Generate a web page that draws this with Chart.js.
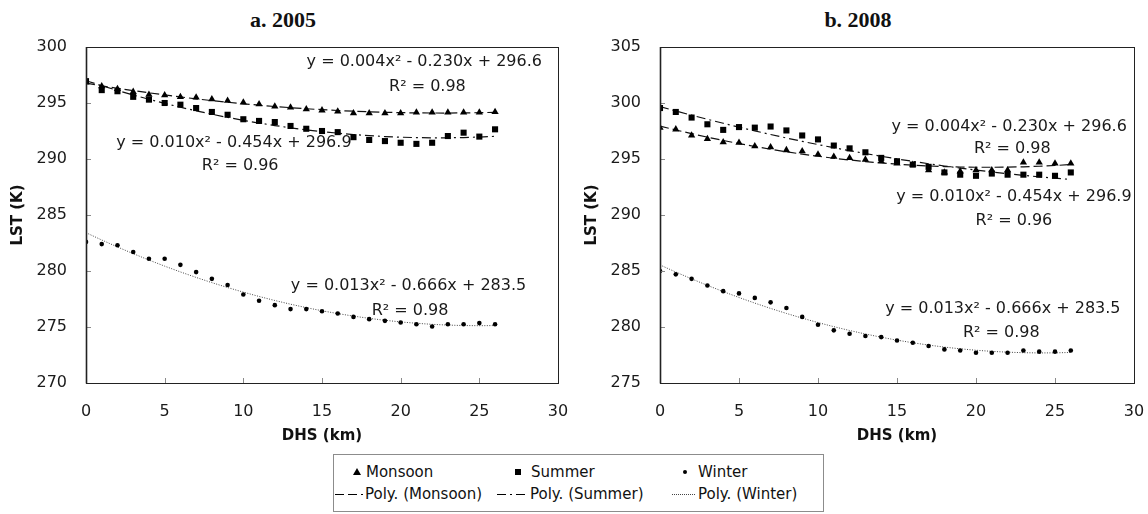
<!DOCTYPE html>
<html>
<head>
<meta charset="utf-8">
<script src="https://cdn.jsdelivr.net/npm/chart.js@4.4.1/dist/chart.umd.min.js"></script>
<style>
  html, body { margin: 0; padding: 0; background: #fff; }
  body { width: 1148px; height: 514px; position: relative; overflow: hidden; font-family: "DejaVu Sans", sans-serif; }
  .panel { position: absolute; top: 0; width: 574px; height: 450px; }
  .title { position: absolute; top: 8px; width: 200px; margin-left: -100px; text-align: center;
           font: bold 22px/24px "Liberation Serif", serif; color: #111; }
  .legend { position: absolute; left: 333px; top: 454px; width: 491px; height: 58px;
            border: 1px solid #8c8c8c; box-sizing: border-box; }
  .txt { position: absolute; font-size: 15px; line-height: 18px; color: #111; white-space: nowrap; }
  .tri { position: absolute; width: 0; height: 0; border-left: 4px solid transparent;
         border-right: 4px solid transparent; border-bottom: 7px solid #000; }
  .sq { position: absolute; width: 6px; height: 6px; background: #000; }
  .dot { position: absolute; width: 4px; height: 4px; border-radius: 50%; background: #000; }
  svg.ln { position: absolute; overflow: visible; }
</style>
</head>
<body>
<div class="title" style="left:283px">a. 2005</div>
<div class="title" style="left:858px">b. 2008</div>
<div class="panel" style="left:0"><canvas id="chart2005" width="574" height="450"></canvas></div>
<div class="panel" style="left:574px"><canvas id="chart2008" width="574" height="450"></canvas></div>

<div class="legend"></div>
<div class="tri" style="left:353px;top:468px"></div>
<div class="txt" style="left:366px;top:463px">Monsoon</div>
<div class="sq" style="left:515px;top:469px"></div>
<div class="txt" style="left:531px;top:463px">Summer</div>
<div class="dot" style="left:683px;top:470px"></div>
<div class="txt" style="left:698px;top:463px">Winter</div>

<svg class="ln" style="left:335px;top:494px" width="28" height="2"><line x1="0" y1="0.5" x2="28" y2="0.5" stroke="#000" stroke-width="1.2" stroke-dasharray="9,4"/></svg>
<div class="txt" style="left:365px;top:485px">Poly. (Monsoon)</div>
<svg class="ln" style="left:497px;top:494px" width="30" height="2"><line x1="0" y1="0.5" x2="30" y2="0.5" stroke="#000" stroke-width="1.2" stroke-dasharray="9,4,2,4"/></svg>
<div class="txt" style="left:530px;top:485px">Poly. (Summer)</div>
<svg class="ln" style="left:672px;top:494px" width="23" height="2"><line x1="0" y1="0.5" x2="23" y2="0.5" stroke="#444" stroke-width="1" stroke-dasharray="1,1"/></svg>
<div class="txt" style="left:698px;top:485px">Poly. (Winter)</div>

<script>
// distance from hot spot (km)
const dhs = [0, 1, 2, 3, 4, 5, 6, 7, 8, 9, 10, 11, 12, 13, 14, 15, 16, 17, 18, 19, 20, 21, 22, 23, 24, 25, 26];
const xTicks = [0, 5, 10, 15, 20, 25, 30];
const lstTicks2005 = [270, 275, 280, 285, 290, 295, 300];
const lstTicks2008 = [275, 280, 285, 290, 295, 300, 305];

// LST (K)
const monsoon2005 = [296.85, 296.5, 296.25, 296.0, 295.75, 295.7, 295.55, 295.5, 295.35, 295.2, 295.05, 294.9, 294.7, 294.6,
                     294.45, 294.35, 294.25, 294.1, 294.1, 294.1, 294.1, 294.15, 294.15, 294.15, 294.15, 294.15, 294.2];
const summer2005 = [296.95, 296.15, 296.05, 295.55, 295.3, 295.0, 294.85, 294.55, 294.2, 293.95, 293.55, 293.4, 293.3, 292.95,
                    292.7, 292.5, 292.4, 291.95, 291.7, 291.6, 291.45, 291.35, 291.45, 292.05, 292.35, 292.0, 292.65];
const winter2005 = [282.6, 282.4, 282.3, 281.7, 281.1, 281.1, 280.55, 279.9, 279.3, 278.75, 277.9, 277.35, 276.95, 276.6,
                    276.6, 276.4, 276.2, 275.9, 275.7, 275.55, 275.4, 275.25, 275.05, 275.25, 275.25, 275.35, 275.25];

const monsoon2008 = [297.8, 297.65, 297.1, 296.8, 296.5, 296.45, 296.15, 296.05, 295.8, 295.7, 295.4, 295.2, 295.1, 294.95,
                     294.8, 294.6, 294.5, 294.0, 293.8, 293.9, 294.0, 294.0, 294.0, 294.7, 294.7, 294.6, 294.6];
const summer2008 = [299.55, 299.2, 298.7, 298.1, 297.6, 297.85, 297.8, 297.9, 297.55, 297.1, 296.75, 296.2, 295.95, 295.6,
                    295.1, 294.8, 294.5, 294.3, 293.8, 293.6, 293.5, 293.7, 293.6, 293.6, 293.6, 293.5, 293.8];
const winter2008 = [285.0, 284.7, 284.3, 283.7, 283.2, 283.0, 282.6, 282.2, 281.7, 280.9, 280.2, 279.7, 279.4, 279.2,
                    279.1, 278.8, 278.6, 278.3, 278.0, 277.9, 277.7, 277.7, 277.7, 277.9, 277.8, 277.8, 277.9];

// trendline equation labels (text as printed, anchored in data units)
const eqn2005 = [
    { text: 'y = 0.004x² - 0.230x + 296.6', x: 21.5, y: 298.65 },
    { text: 'R² = 0.98', x: 21.7, y: 296.4 },
    { text: 'y = 0.010x² - 0.454x + 296.9', x: 9.4, y: 291.4 },
    { text: 'R² = 0.96', x: 9.8, y: 289.35 },
    { text: 'y = 0.013x² - 0.666x + 283.5', x: 20.5, y: 278.65 },
    { text: 'R² = 0.98', x: 20.6, y: 276.4 }
];
const eqn2008 = [
    { text: 'y = 0.004x² - 0.230x + 296.6', x: 22.1, y: 297.9 },
    { text: 'R² = 0.98', x: 22.3, y: 295.9 },
    { text: 'y = 0.010x² - 0.454x + 296.9', x: 22.4, y: 291.6 },
    { text: 'R² = 0.96', x: 22.4, y: 289.5 },
    { text: 'y = 0.013x² - 0.666x + 283.5', x: 21.7, y: 281.6 },
    { text: 'R² = 0.98', x: 21.6, y: 279.5 }
];

// least squares 2nd order polynomial, like the spreadsheet trendline
function quadFit(xs, ys) {
    let n = xs.length, s1 = 0, s2 = 0, s3 = 0, s4 = 0, t0 = 0, t1 = 0, t2 = 0;
    for (let i = 0; i < n; i++) {
        const x = xs[i], y = ys[i];
        s1 += x; s2 += x * x; s3 += x * x * x; s4 += x * x * x * x;
        t0 += y; t1 += x * y; t2 += x * x * y;
    }
    const det = (m) => m[0][0] * (m[1][1] * m[2][2] - m[1][2] * m[2][1])
                     - m[0][1] * (m[1][0] * m[2][2] - m[1][2] * m[2][0])
                     + m[0][2] * (m[1][0] * m[2][1] - m[1][1] * m[2][0]);
    const A = [[n, s1, s2], [s1, s2, s3], [s2, s3, s4]];
    const b = [t0, t1, t2];
    const D = det(A);
    const coef = [0, 1, 2].map(col => det(A.map((row, r) => row.map((v, c) => c === col ? b[r] : v))) / D);
    return x => coef[0] + coef[1] * x + coef[2] * x * x;
}

const points = (ys) => dhs.map((x, i) => ({ x: x, y: ys[i] }));
const trend = (ys) => { const f = quadFit(dhs, ys); return dhs.map(x => ({ x: x, y: f(x) })); };

const frameTicks = {
    id: 'frameTicks',
    afterDraw(chart) {
        const { ctx, chartArea: a, scales: { x, y } } = chart;
        ctx.save();
        ctx.strokeStyle = '#8a8a8a';
        ctx.lineWidth = 1;
        ctx.beginPath();
        x.ticks.forEach(t => {
            const px = Math.round(x.getPixelForValue(t.value)) + 0.5;
            ctx.moveTo(px, a.bottom); ctx.lineTo(px, a.bottom - 5);
        });
        y.ticks.forEach(t => {
            const py = Math.round(y.getPixelForValue(t.value)) + 0.5;
            ctx.moveTo(a.left, py); ctx.lineTo(a.left + 5, py);
        });
        ctx.stroke();
        ctx.strokeStyle = '#222';
        ctx.strokeRect(Math.round(a.left) + 0.5, Math.round(a.top) + 0.5, Math.round(a.right - a.left), Math.round(a.bottom - a.top));
        ctx.lineWidth = 1.6;
        ctx.beginPath();
        ctx.moveTo(a.left + 0.5, a.top); ctx.lineTo(a.left + 0.5, a.bottom + 0.5);
        ctx.stroke();
        ctx.restore();
    }
};

function makeChart(id, monsoon, summer, winter, yTicks, labels) {
    const eqnPlugin = {
        id: 'eqn',
        afterDatasetsDraw(chart) {
            const { ctx, scales: { x, y } } = chart;
            ctx.save();
            ctx.font = '16px "DejaVu Sans"';
            ctx.fillStyle = '#1a1a1a';
            ctx.textAlign = 'center';
            ctx.textBaseline = 'middle';
            labels.forEach(l => ctx.fillText(l.text, x.getPixelForValue(l.x), y.getPixelForValue(l.y)));
            ctx.restore();
        }
    };
    const tickFont = { family: 'DejaVu Sans', size: 16 };
    const titleFont = { family: 'DejaVu Sans', size: 15, weight: 'bold' };
    return new Chart(document.getElementById(id), {
        type: 'scatter',
        data: {
            datasets: [
                { label: 'Monsoon', data: points(monsoon), pointStyle: 'triangle', pointRadius: 4.2,
                  backgroundColor: '#000', borderColor: '#000', borderWidth: 0 },
                { label: 'Summer', data: points(summer), pointStyle: 'rect', pointRadius: 4.3,
                  backgroundColor: '#000', borderColor: '#000', borderWidth: 0 },
                { label: 'Winter', data: points(winter), pointStyle: 'circle', pointRadius: 2.3,
                  backgroundColor: '#000', borderColor: '#000', borderWidth: 0 },
                { label: 'Poly. (Monsoon)', type: 'line', data: trend(monsoon), pointRadius: 0,
                  borderColor: '#111', borderWidth: 1.2, borderDash: [9, 4], fill: false },
                { label: 'Poly. (Summer)', type: 'line', data: trend(summer), pointRadius: 0,
                  borderColor: '#111', borderWidth: 1.2, borderDash: [9, 4, 2, 4], fill: false },
                { label: 'Poly. (Winter)', type: 'line', data: trend(winter), pointRadius: 0,
                  borderColor: '#444', borderWidth: 1, borderDash: [1, 1.5], fill: false }
            ]
        },
        options: {
            responsive: false,
            animation: false,
            devicePixelRatio: 1,
            layout: { padding: { top: 47, right: id === 'chart2005' ? 16 : 14, bottom: 0, left: 0 } },
            plugins: { legend: { display: false }, tooltip: { enabled: false } },
            scales: {
                x: {
                    type: 'linear',
                    min: xTicks[0],
                    max: xTicks[xTicks.length - 1],
                    afterFit: s => { s.height = 67; s.paddingLeft = 0; s.paddingRight = 0; },
                    grid: { display: false, drawTicks: false },
                    border: { display: false },
                    ticks: { stepSize: xTicks[1] - xTicks[0], font: tickFont, color: '#1a1a1a', padding: 19 },
                    title: { display: true, text: 'DHS (km)', font: titleFont, color: '#111', padding: { top: 0, bottom: 5 } }
                },
                y: {
                    min: yTicks[0],
                    max: yTicks[yTicks.length - 1],
                    afterFit: s => { s.width = 86; s.paddingTop = 0; s.paddingBottom = 0; },
                    grid: { display: false, drawTicks: false },
                    border: { display: false },
                    ticks: { stepSize: yTicks[1] - yTicks[0], font: tickFont, color: '#1a1a1a', padding: 19 },
                    title: { display: true, text: 'LST (K)', font: titleFont, color: '#111', padding: { top: 9, bottom: 0 } }
                }
            }
        },
        plugins: [frameTicks, eqnPlugin]
    });
}

makeChart('chart2005', monsoon2005, summer2005, winter2005, lstTicks2005, eqn2005);
makeChart('chart2008', monsoon2008, summer2008, winter2008, lstTicks2008, eqn2008);
</script>
</body>
</html>
